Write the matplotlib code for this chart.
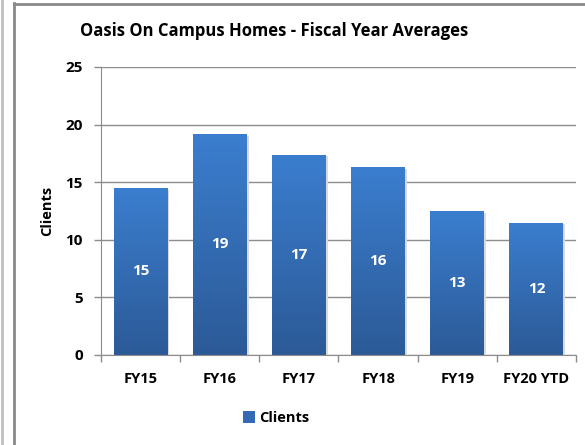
import numpy as np
import matplotlib
matplotlib.use("Agg")
import matplotlib.pyplot as plt
from matplotlib.lines import Line2D
from matplotlib.patches import Patch

# data
years = ["FY15", "FY16", "FY17", "FY18", "FY19", "FY20 YTD"]
clients = [14.5, 19.2, 17.4, 16.3, 12.5, 11.5]
labels = ["15", "19", "17", "16", "13", "12"]

plt.rcParams['font.family'] = ['Open Sans', 'DejaVu Sans']
plt.rcParams['font.weight'] = 'bold'

W, H = 585, 445
fig = plt.figure(figsize=(W / 100, H / 100), dpi=100)
ax = fig.add_axes([101 / W, 1 - 355 / H, 475 / W, 288 / H])

x = np.arange(len(years))
bars = ax.bar(x, clients, width=0.68, color='none', edgecolor='none', zorder=3)

# gradient fill, light on top and darker at the bottom
grad = np.linspace(0, 1, 256).reshape(-1, 1)
top = np.array([0x3b, 0x7e, 0xcf]) / 255
bot = np.array([0x2c, 0x5a, 0x97]) / 255
img = (bot[None, None, :] * (1 - grad[..., None]) + top[None, None, :] * grad[..., None])
for b in bars:
    x0, w, h = b.get_x(), b.get_width(), b.get_height()
    # small shadow to the right
    ax.bar(x0 + w / 2 + 0.025, h, width=w, bottom=-0.15, color='#dadada', zorder=2)
    im = ax.imshow(img, extent=[x0, x0 + w, 0, h], origin='lower', aspect='auto', zorder=3)
    im.set_clip_path(b)

for xi, v, lab in zip(x, clients, labels):
    ax.text(xi, v / 2, lab, ha='center', va='center', color='white',
            fontsize=11, fontweight='bold', zorder=4)

ax.set_xlim(-0.5, len(years) - 0.5)
ax.set_ylim(0, 25)
ax.set_yticks([0, 5, 10, 15, 20, 25])
ax.set_xticks(x)
ax.set_xticklabels(years)
ax.set_xticks(np.arange(len(years) + 1) - 0.5, minor=True)
ax.tick_params(axis='x', which='major', length=0, pad=12, labelsize=10.5, colors='black')
ax.tick_params(axis='x', which='minor', length=5, color='#8c8c8c', width=1)
ax.tick_params(axis='y', length=5, color='#8c8c8c', width=1, labelsize=11, pad=8)
ax.grid(axis='y', color='#8c8c8c', linewidth=1, zorder=0)
ax.set_axisbelow(True)
for s in ['top', 'right']:
    ax.spines[s].set_visible(False)
for s in ['left', 'bottom']:
    ax.spines[s].set_color('#8c8c8c')
    ax.spines[s].set_zorder(5)

ax.set_ylabel("Clients", fontsize=10.5, fontweight='bold', labelpad=8)

fig.text(274 / W, 1 - 31 / H, "Oasis On Campus Homes - Fiscal Year Averages",
         ha='center', va='center', fontsize=12, fontweight='bold')

leg = fig.legend(handles=[Patch(facecolor='#3469b5', label='Clients')],
                 loc='center', bbox_to_anchor=(276 / W, 1 - 418 / H), frameon=False,
                 fontsize=10.5, handlelength=0.8, handleheight=0.8, handletextpad=0.3)

# outer frame of the chart
fig.add_artist(Line2D([14 / W, 14 / W], [0, 1 - 3 / H], color='#8a8a8a', lw=2))
fig.add_artist(Line2D([14 / W, 1], [1 - 3.5 / H, 1 - 3.5 / H], color='#8a8a8a', lw=2))
fig.add_artist(Line2D([1.5 / W, 1.5 / W], [0, 1], color='#c0c0c0', lw=2))

fig.savefig("out.png", dpi=100)
